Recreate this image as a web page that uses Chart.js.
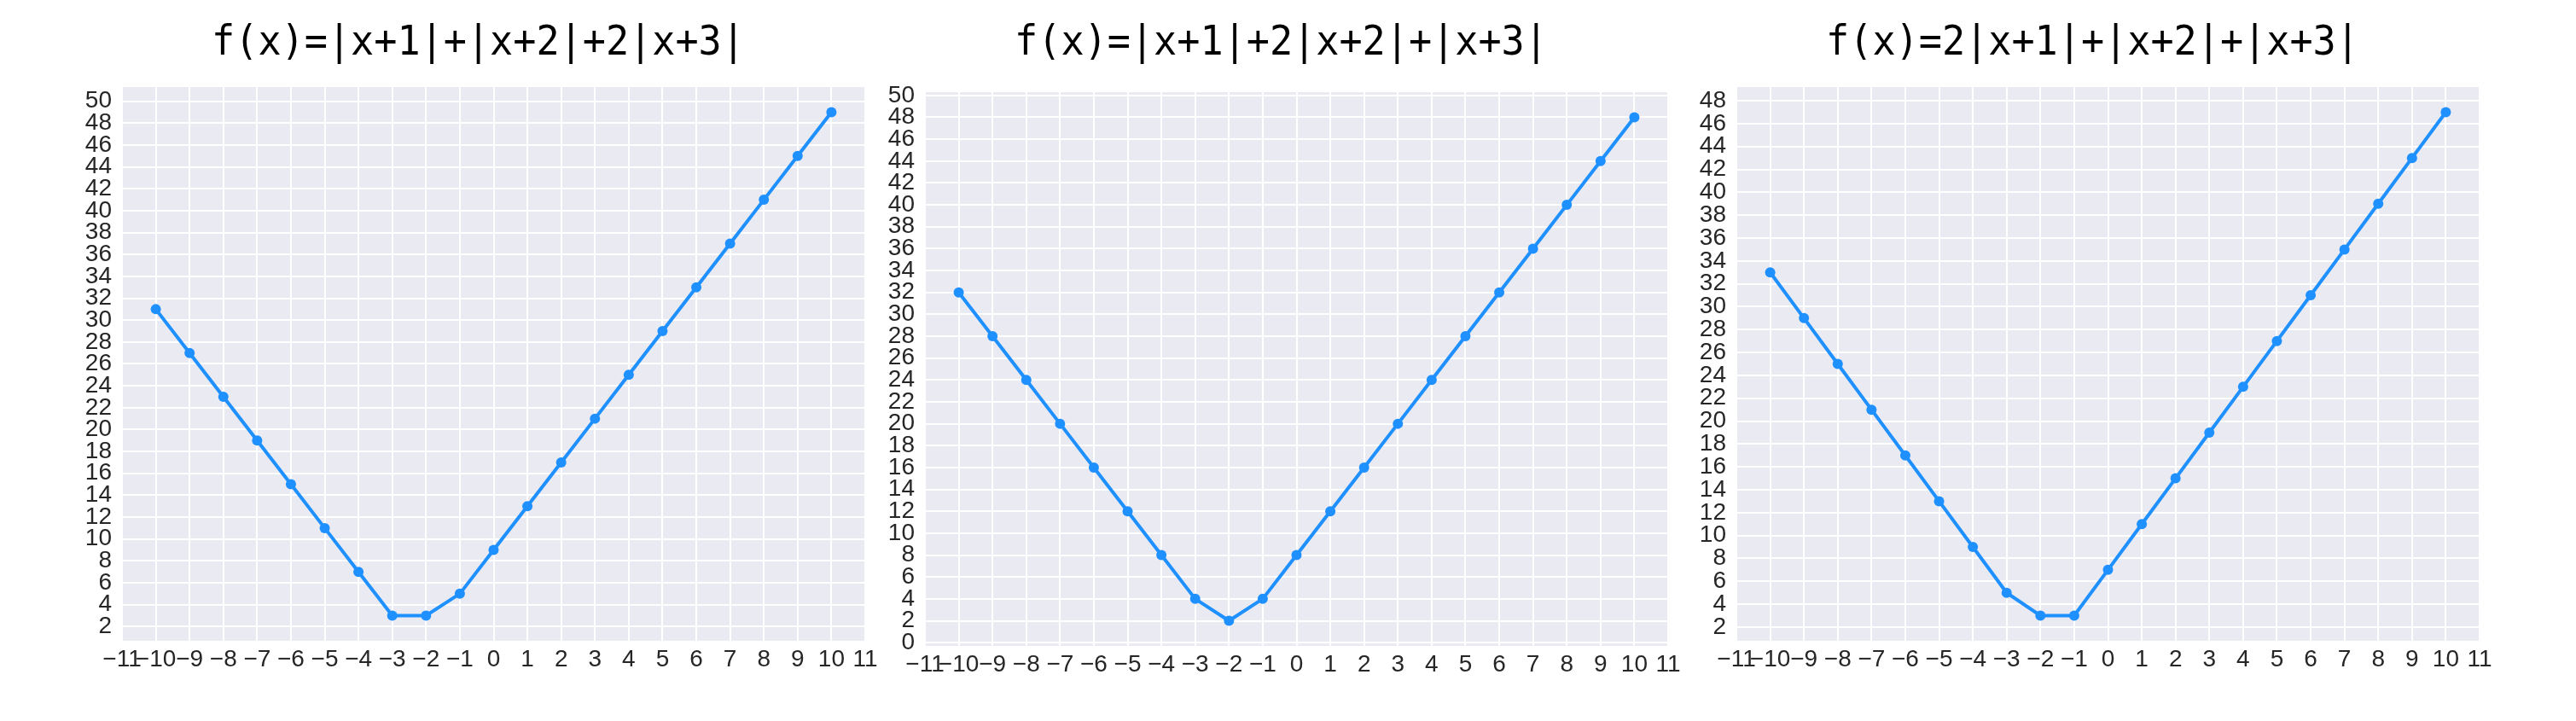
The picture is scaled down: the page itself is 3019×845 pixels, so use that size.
<!DOCTYPE html>
<html>
<head>
<meta charset="utf-8">
<script src="https://cdn.jsdelivr.net/npm/chart.js@4.4.1/dist/chart.umd.min.js"></script>
<style>
  html, body { margin: 0; padding: 0; background: #ffffff; }
  body { width: 3019px; height: 845px; position: relative; overflow: hidden; }
  canvas { position: absolute; top: 0; }
</style>
</head>
<body>
<canvas id="c1" width="1011" height="845" style="left:43px"></canvas>
<canvas id="c2" width="1011" height="845" style="left:984px"></canvas>
<canvas id="c3" width="1011" height="845" style="left:1935px"></canvas>
<script>
// valores
const xValues = [-10, -9, -8, -7, -6, -5, -4, -3, -2, -1, 0, 1, 2, 3, 4, 5, 6, 7, 8, 9, 10];
const f1Values = [31, 27, 23, 19, 15, 11, 7, 3, 3, 5, 9, 13, 17, 21, 25, 29, 33, 37, 41, 45, 49];
const f2Values = [32, 28, 24, 20, 16, 12, 8, 4, 2, 4, 8, 12, 16, 20, 24, 28, 32, 36, 40, 44, 48];
const f3Values = [33, 29, 25, 21, 17, 13, 9, 5, 3, 3, 7, 11, 15, 19, 23, 27, 31, 35, 39, 43, 47];

const titles = [
  "f(x)=|x+1|+|x+2|+2|x+3|",
  "f(x)=|x+1|+2|x+2|+|x+3|",
  "f(x)=2|x+1|+|x+2|+|x+3|"
];

const xTicks = [-11, -10, -9, -8, -7, -6, -5, -4, -3, -2, -1, 0, 1, 2, 3, 4, 5, 6, 7, 8, 9, 10, 11];
const yTicks1 = [2, 4, 6, 8, 10, 12, 14, 16, 18, 20, 22, 24, 26, 28, 30, 32, 34, 36, 38, 40, 42, 44, 46, 48, 50];
const yTicks2 = [0, 2, 4, 6, 8, 10, 12, 14, 16, 18, 20, 22, 24, 26, 28, 30, 32, 34, 36, 38, 40, 42, 44, 46, 48, 50];
const yTicks3 = [2, 4, 6, 8, 10, 12, 14, 16, 18, 20, 22, 24, 26, 28, 30, 32, 34, 36, 38, 40, 42, 44, 46, 48];

const yRanges = [[0.7, 51.3], [-0.3, 50.3], [0.8, 49.2]];

const LINE_COLOR = "#1E90FF";
const BG_COLOR = "#EAEAF2";
const TICK_FONT = { family: "'Liberation Sans Narrow', 'Liberation Sans', Arial, sans-serif", size: 28 };

const fmt = v => v < 0 ? "\u2212" + Math.abs(v) : String(v);

// fondo gris estilo seaborn
const fondoPlugin = {
  id: "fondo",
  beforeDraw(chart) {
    const { ctx, chartArea: a } = chart;
    ctx.save();
    ctx.fillStyle = BG_COLOR;
    ctx.fillRect(a.left, a.top, a.right - a.left, a.bottom - a.top);
    ctx.restore();
  }
};

// título monoespaciado, un poco a la izquierda del centro como en el original
const tituloPlugin = {
  id: "titulo",
  afterDraw(chart, args, opts) {
    const { ctx, chartArea: a } = chart;
    ctx.save();
    ctx.translate((a.left + a.right) / 2 - 18, 64);
    ctx.scale(0.94, 1);
    ctx.font = "48px 'DejaVu Sans Mono', monospace";
    ctx.fillStyle = "#000000";
    ctx.textAlign = "center";
    ctx.textBaseline = "alphabetic";
    ctx.fillText(opts.text, 0, 0);
    ctx.restore();
  }
};

function crearGrafico(id, yValues, yTicks, yRange, title, padTop, padBottom) {
  const puntos = xValues.map((x, i) => ({ x: x, y: yValues[i] }));
  new Chart(document.getElementById(id), {
    type: "line",
    data: {
      datasets: [{
        data: puntos,
        borderColor: LINE_COLOR,
        backgroundColor: LINE_COLOR,
        borderWidth: 4,
        pointRadius: 6,
        pointBorderWidth: 0,
        tension: 0,
        fill: false
      }]
    },
    options: {
      responsive: false,
      animation: false,
      devicePixelRatio: 1,
      layout: { padding: { top: padTop, bottom: padBottom, left: 0, right: 40 } },
      plugins: {
        legend: { display: false },
        tooltip: { enabled: false },
        title: { display: false },
        titulo: { text: title }
      },
      scales: {
        x: {
          type: "linear",
          min: -11,
          max: 11,
          afterBuildTicks: s => { s.ticks = xTicks.map(v => ({ value: v })); },
          afterFit: s => { s.height = 50; },
          grid: { color: "#ffffff", lineWidth: 2, drawTicks: false },
          border: { display: false },
          ticks: { font: TICK_FONT, color: "#262626", padding: 5, maxRotation: 0, autoSkip: false, callback: fmt }
        },
        y: {
          type: "linear",
          min: yRange[0],
          max: yRange[1],
          afterBuildTicks: s => { s.ticks = yTicks.map(v => ({ value: v })); },
          afterFit: s => { s.width = 100; },
          grid: { color: "#ffffff", lineWidth: 2, drawTicks: false },
          border: { display: false },
          ticks: { font: TICK_FONT, color: "#262626", padding: 12, autoSkip: false, callback: fmt }
        }
      }
    },
    plugins: [fondoPlugin, tituloPlugin]
  });
}

crearGrafico("c1", f1Values, yTicks1, yRanges[0], titles[0], 102, 44);
crearGrafico("c2", f2Values, yTicks2, yRanges[1], titles[1], 108, 38);
crearGrafico("c3", f3Values, yTicks3, yRanges[2], titles[2], 102, 44);
</script>
</body>
</html>
